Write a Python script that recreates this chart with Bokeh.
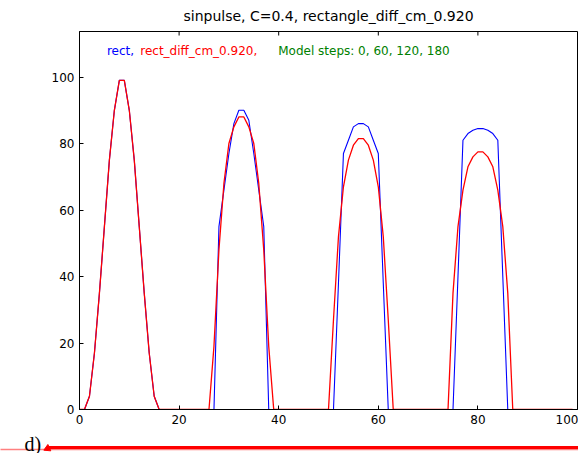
from bokeh.plotting import figure
from bokeh.models import Range1d, FixedTicker, Label
from bokeh.layouts import column
from bokeh.embed import file_html
from bokeh.resources import INLINE
from bokeh.core.properties import value

# ---------------- data ----------------
n_cells = 100
cell_x = list(range(n_cells))
model_steps = [0, 60, 120, 180]

# "rect" scheme (blue): start cell of each pulse and its values
rect_starts = [1, 27, 51, 75]
rect_step0 = [0, 4, 17, 35, 55, 75, 90, 99, 99, 90, 75, 55, 35, 17, 4, 0]
rect_step60 = [0, 55, 66, 77, 86, 90, 90, 87, 77, 66, 55, 0]
rect_step120 = [0, 38, 77, 81, 85, 86, 86, 85, 81, 77, 38, 0]
rect_step180 = [0, 40, 81, 83, 84, 84.5, 84.5, 84, 83, 81, 40, 0]

# "rect_diff_cm_0.920" scheme (red)
diff_starts = [1, 26, 50, 74]
diff_step0 = [0, 4, 17, 35, 55, 75, 90, 99, 99, 90, 75, 55, 35, 17, 4, 0]
diff_step60 = [0, 19, 48, 68, 80, 85, 88, 88, 85, 80, 68, 48, 19, 0]
diff_step120 = [0, 27, 52, 67, 75, 79.5, 81.5, 81.5, 79.5, 75, 67, 52, 27, 0]
diff_step180 = [0, 35, 55, 66, 73, 76, 77.5, 77.5, 76, 73, 66, 55, 35, 0]

x_ticks = [0, 20, 40, 60, 80, 100]
y_ticks = [0, 20, 40, 60, 80, 100]
y_top = 113.7

title_text = "sinpulse, C=0.4, rectangle_diff_cm_0.920"
label_rect = "rect,"
label_diff = "rect_diff_cm_0.920,"
label_steps = "Model steps: " + ", ".join(str(s) for s in model_steps)


def assemble(starts, pulses):
    ys = [0.0] * n_cells
    for s, vals in zip(starts, pulses):
        for k, v in enumerate(vals):
            ys[s + k] = v
    return ys


rect_y = assemble(rect_starts, [rect_step0, rect_step60, rect_step120, rect_step180])
diff_y = assemble(diff_starts, [diff_step0, diff_step60, diff_step120, diff_step180])

FONT = "DejaVu Sans"

p = figure(width=578, height=428, x_range=Range1d(0, 100), y_range=Range1d(0, y_top),
           output_backend="svg", toolbar_location=None,
           min_border_left=79, min_border_right=1, min_border_top=31, min_border_bottom=19,
           title=title_text)
p.title.align = "center"
p.title.vertical_align = "top"
p.title.text_font = FONT
p.title.text_font_size = "14px"
p.title.text_font_style = "normal"
p.title.text_color = "#000000"
p.title.standoff = 12

px_per_unit_y = 378.0 / y_top

p.xgrid.visible = False
p.ygrid.visible = False
p.outline_line_color = "#000000"
p.outline_line_alpha = 1.0
p.background_fill_color = "#ffffff"
p.border_fill_color = "#ffffff"

p.xaxis.ticker = FixedTicker(ticks=x_ticks)
p.yaxis.ticker = FixedTicker(ticks=y_ticks)
for ax in (p.xaxis[0], p.yaxis[0]):
    ax.major_tick_in = 4
    ax.major_tick_out = 0
    ax.minor_tick_line_color = None
    ax.axis_line_color = "#000000"
    ax.major_tick_line_color = "#000000"
    ax.major_label_text_font = FONT
    ax.major_label_text_font_size = "12px"
    ax.major_label_text_color = "#000000"

# inward tick marks on the top edge of the frame (4 px long)
tick_len = 4 / px_per_unit_y
p.segment(x0=x_ticks, y0=[y_top] * len(x_ticks), x1=x_ticks,
          y1=[y_top - tick_len] * len(x_ticks), line_color="#000000", line_width=1)

p.line(cell_x, rect_y, line_color="#0000ff", line_width=1.1)
p.line(cell_x, diff_y, line_color="#ff0000", line_width=1.3)

for txt, xx, col in [(label_rect, 5.5, "#0000ff"), (label_diff, 12.2, "#ff0000"),
                     (label_steps, 39.9, "#008000")]:
    p.add_layout(Label(x=xx, y=107.9, text=txt, text_color=col, text_font=FONT,
                       text_font_size="12px", text_baseline="middle", text_align="left"))

# ---------------- page decoration below the chart ----------------
deco = figure(width=578, height=25, x_range=Range1d(0, 578), y_range=Range1d(0, 25),
              output_backend="svg", toolbar_location=None, min_border=0)
deco.frame_align = False
deco.axis.visible = False
deco.xgrid.visible = False
deco.ygrid.visible = False
deco.outline_line_color = None
deco.line([0, 578], [4, 4], line_color="#ff0000", line_width=1.5, line_dash="1 1")
deco.line([48, 578], [6, 6], line_color="#ff0000", line_width=3)
deco.scatter([47], [5], marker="triangle", size=7, angle=2.0, color="#ff0000")
deco.text([24], [10], text=["d)"], text_font_size="20px", text_color="#000000",
          text_baseline="alphabetic", text_font=value("Liberation Serif"))

layout = column(p, deco, spacing=0)
open("out.html", "w").write(file_html(layout, INLINE))
